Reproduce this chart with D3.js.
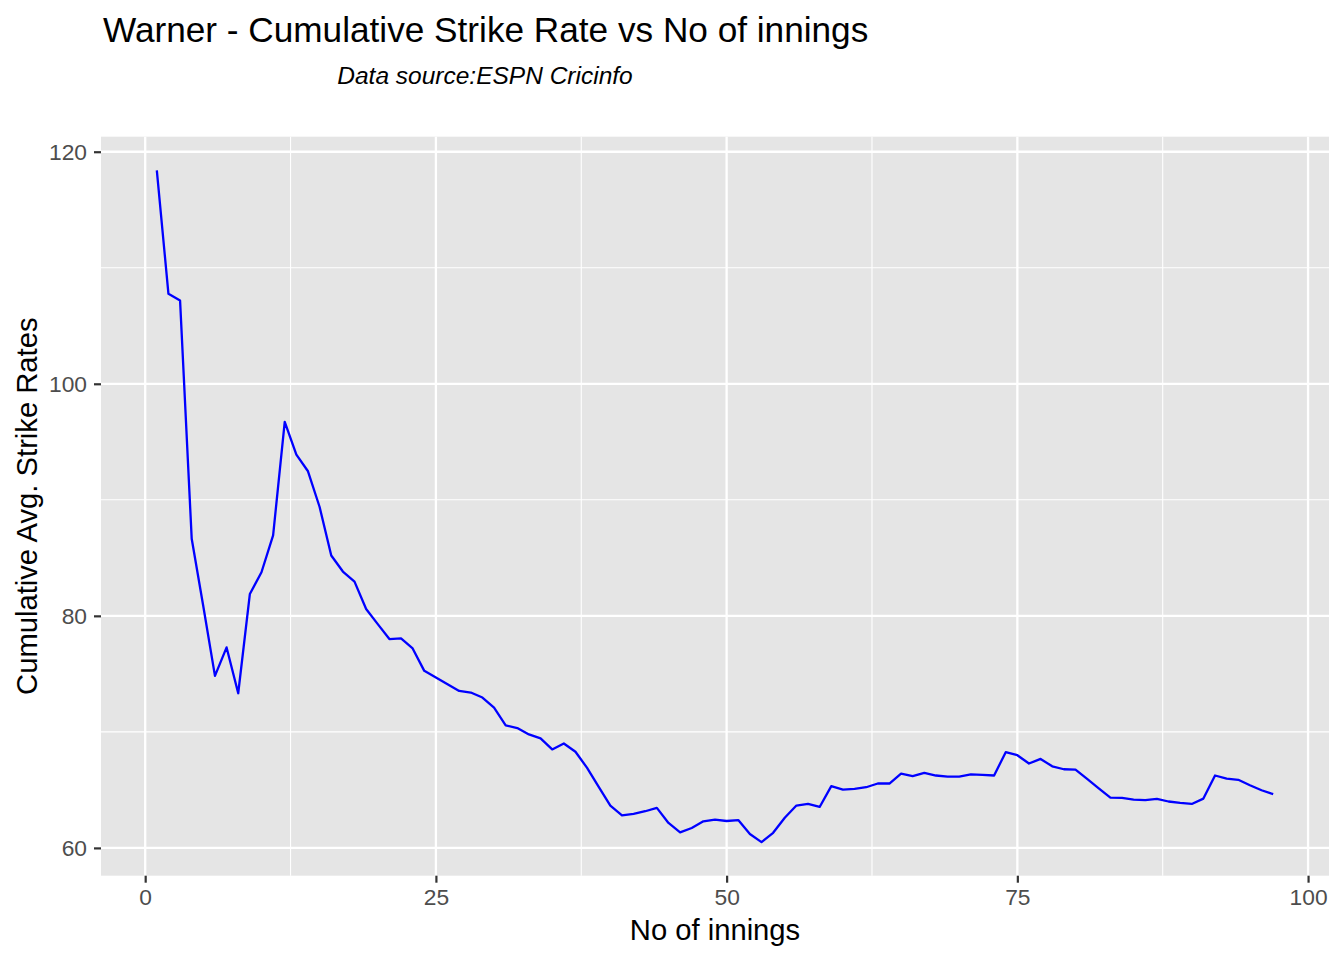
<!DOCTYPE html>
<html>
<head>
<meta charset="utf-8">
<script src="https://cdn.jsdelivr.net/npm/d3@7"></script>
<style>
  html, body { margin: 0; padding: 0; background: #ffffff; }
  svg { display: block; font-family: "Liberation Sans", Arial, Helvetica, sans-serif; }
</style>
</head>
<body>
<svg id="chart" width="1344" height="960"></svg>
<script>
const titleText = "Warner - Cumulative Strike Rate vs No of innings";
const subtitleText = "Data source:ESPN Cricinfo";
const xTitle = "No of innings";
const yTitle = "Cumulative Avg. Strike Rates";

const innings = d3.range(1, 98);
const strikeRate = [
  118.4, 107.75, 107.17, 86.64, 80.8, 74.83, 77.28, 73.33, 81.88, 83.76,
  86.93, 96.72, 93.9, 92.46, 89.38, 85.2, 83.82, 82.95, 80.59, 79.29,
  78.0, 78.05, 77.19, 75.26, 74.69, 74.1, 73.53, 73.39, 72.96, 72.09,
  70.56, 70.33, 69.78, 69.44, 68.49, 69.0, 68.29, 66.9, 65.26, 63.64,
  62.81, 62.93, 63.16, 63.45, 62.15, 61.34, 61.72, 62.29, 62.44, 62.32,
  62.4, 61.2, 60.5, 61.3, 62.6, 63.65, 63.79, 63.53, 65.32, 65.03,
  65.09, 65.23, 65.55, 65.55, 66.41, 66.18, 66.47, 66.24, 66.15, 66.15,
  66.33, 66.3, 66.24, 68.25, 67.99, 67.27, 67.67, 67.03, 66.78, 66.75,
  65.95, 65.14, 64.34, 64.31, 64.17, 64.11, 64.23, 64.0, 63.88, 63.79,
  64.25, 66.24, 65.98, 65.87, 65.4, 64.97, 64.63
];
const xTicks = [0, 25, 50, 75, 100];
const xMinor = [12.5, 37.5, 62.5, 87.5];
const yTicks = [60, 80, 100, 120];
const yMinor = [70, 90, 110];

const data = innings.map((d, i) => ({ x: d, y: strikeRate[i] }));

const panel = { left: 101, right: 1329, top: 136.7, bottom: 875.7 };

function expand(ext) {
  const r = ext[1] - ext[0];
  return [ext[0] - 0.05 * r, ext[1] + 0.05 * r];
}

const x = d3.scaleLinear().domain(expand(d3.extent(innings))).range([panel.left, panel.right]);
const y = d3.scaleLinear().domain(expand(d3.extent(strikeRate))).range([panel.bottom, panel.top]);

const svg = d3.select("#chart");

svg.append("rect")
  .attr("x", panel.left).attr("y", panel.top)
  .attr("width", panel.right - panel.left).attr("height", panel.bottom - panel.top)
  .attr("fill", "#e5e5e5");

const grid = svg.append("g");
grid.selectAll(".ymin").data(yMinor).enter().append("line")
  .attr("x1", panel.left).attr("x2", panel.right)
  .attr("y1", d => y(d)).attr("y2", d => y(d))
  .attr("stroke", "#ffffff").attr("stroke-width", 1.1);
grid.selectAll(".xmin").data(xMinor).enter().append("line")
  .attr("y1", panel.top).attr("y2", panel.bottom)
  .attr("x1", d => x(d)).attr("x2", d => x(d))
  .attr("stroke", "#ffffff").attr("stroke-width", 1.1);
grid.selectAll(".ymaj").data(yTicks).enter().append("line")
  .attr("x1", panel.left).attr("x2", panel.right)
  .attr("y1", d => y(d)).attr("y2", d => y(d))
  .attr("stroke", "#ffffff").attr("stroke-width", 2.3);
grid.selectAll(".xmaj").data(xTicks).enter().append("line")
  .attr("y1", panel.top).attr("y2", panel.bottom)
  .attr("x1", d => x(d)).attr("x2", d => x(d))
  .attr("stroke", "#ffffff").attr("stroke-width", 2.3);

const line = d3.line().x(d => x(d.x)).y(d => y(d.y));
svg.append("path")
  .datum(data)
  .attr("d", line)
  .attr("fill", "none")
  .attr("stroke", "#0000ff")
  .attr("stroke-width", 2.3)
  .attr("stroke-linejoin", "round");

// Axes
const xAxis = d3.axisBottom(x).tickValues(xTicks).tickSize(7).tickPadding(6).tickFormat(d3.format("d"));
const gx = svg.append("g").attr("transform", `translate(0,${panel.bottom})`).call(xAxis);
gx.select(".domain").remove();
gx.selectAll(".tick line").attr("stroke", "#333333").attr("stroke-width", 2.2);
gx.selectAll(".tick text").attr("fill", "#4d4d4d").attr("font-size", 22.8)
  .attr("font-family", "Liberation Sans, Arial, sans-serif");

const yAxis = d3.axisLeft(y).tickValues(yTicks).tickSize(7).tickPadding(7).tickFormat(d3.format("d"));
const gy = svg.append("g").attr("transform", `translate(${panel.left},0)`).call(yAxis);
gy.select(".domain").remove();
gy.selectAll(".tick line").attr("stroke", "#333333").attr("stroke-width", 2.2);
gy.selectAll(".tick text").attr("fill", "#4d4d4d").attr("font-size", 22.8)
  .attr("font-family", "Liberation Sans, Arial, sans-serif");

// Titles
svg.append("text")
  .attr("x", 103).attr("y", 42)
  .attr("font-size", 35.2).attr("fill", "#000")
  .text(titleText);

svg.append("text")
  .attr("x", 485).attr("y", 84)
  .attr("text-anchor", "middle")
  .attr("font-size", 24.5).attr("font-style", "italic").attr("fill", "#000")
  .text(subtitleText);

svg.append("text")
  .attr("x", (panel.left + panel.right) / 2).attr("y", 940)
  .attr("text-anchor", "middle")
  .attr("font-size", 29.2).attr("fill", "#000")
  .text(xTitle);

svg.append("text")
  .attr("transform", `translate(37,${(panel.top + panel.bottom) / 2}) rotate(-90)`)
  .attr("text-anchor", "middle")
  .attr("font-size", 29.2).attr("fill", "#000")
  .text(yTitle);
</script>
</body>
</html>
